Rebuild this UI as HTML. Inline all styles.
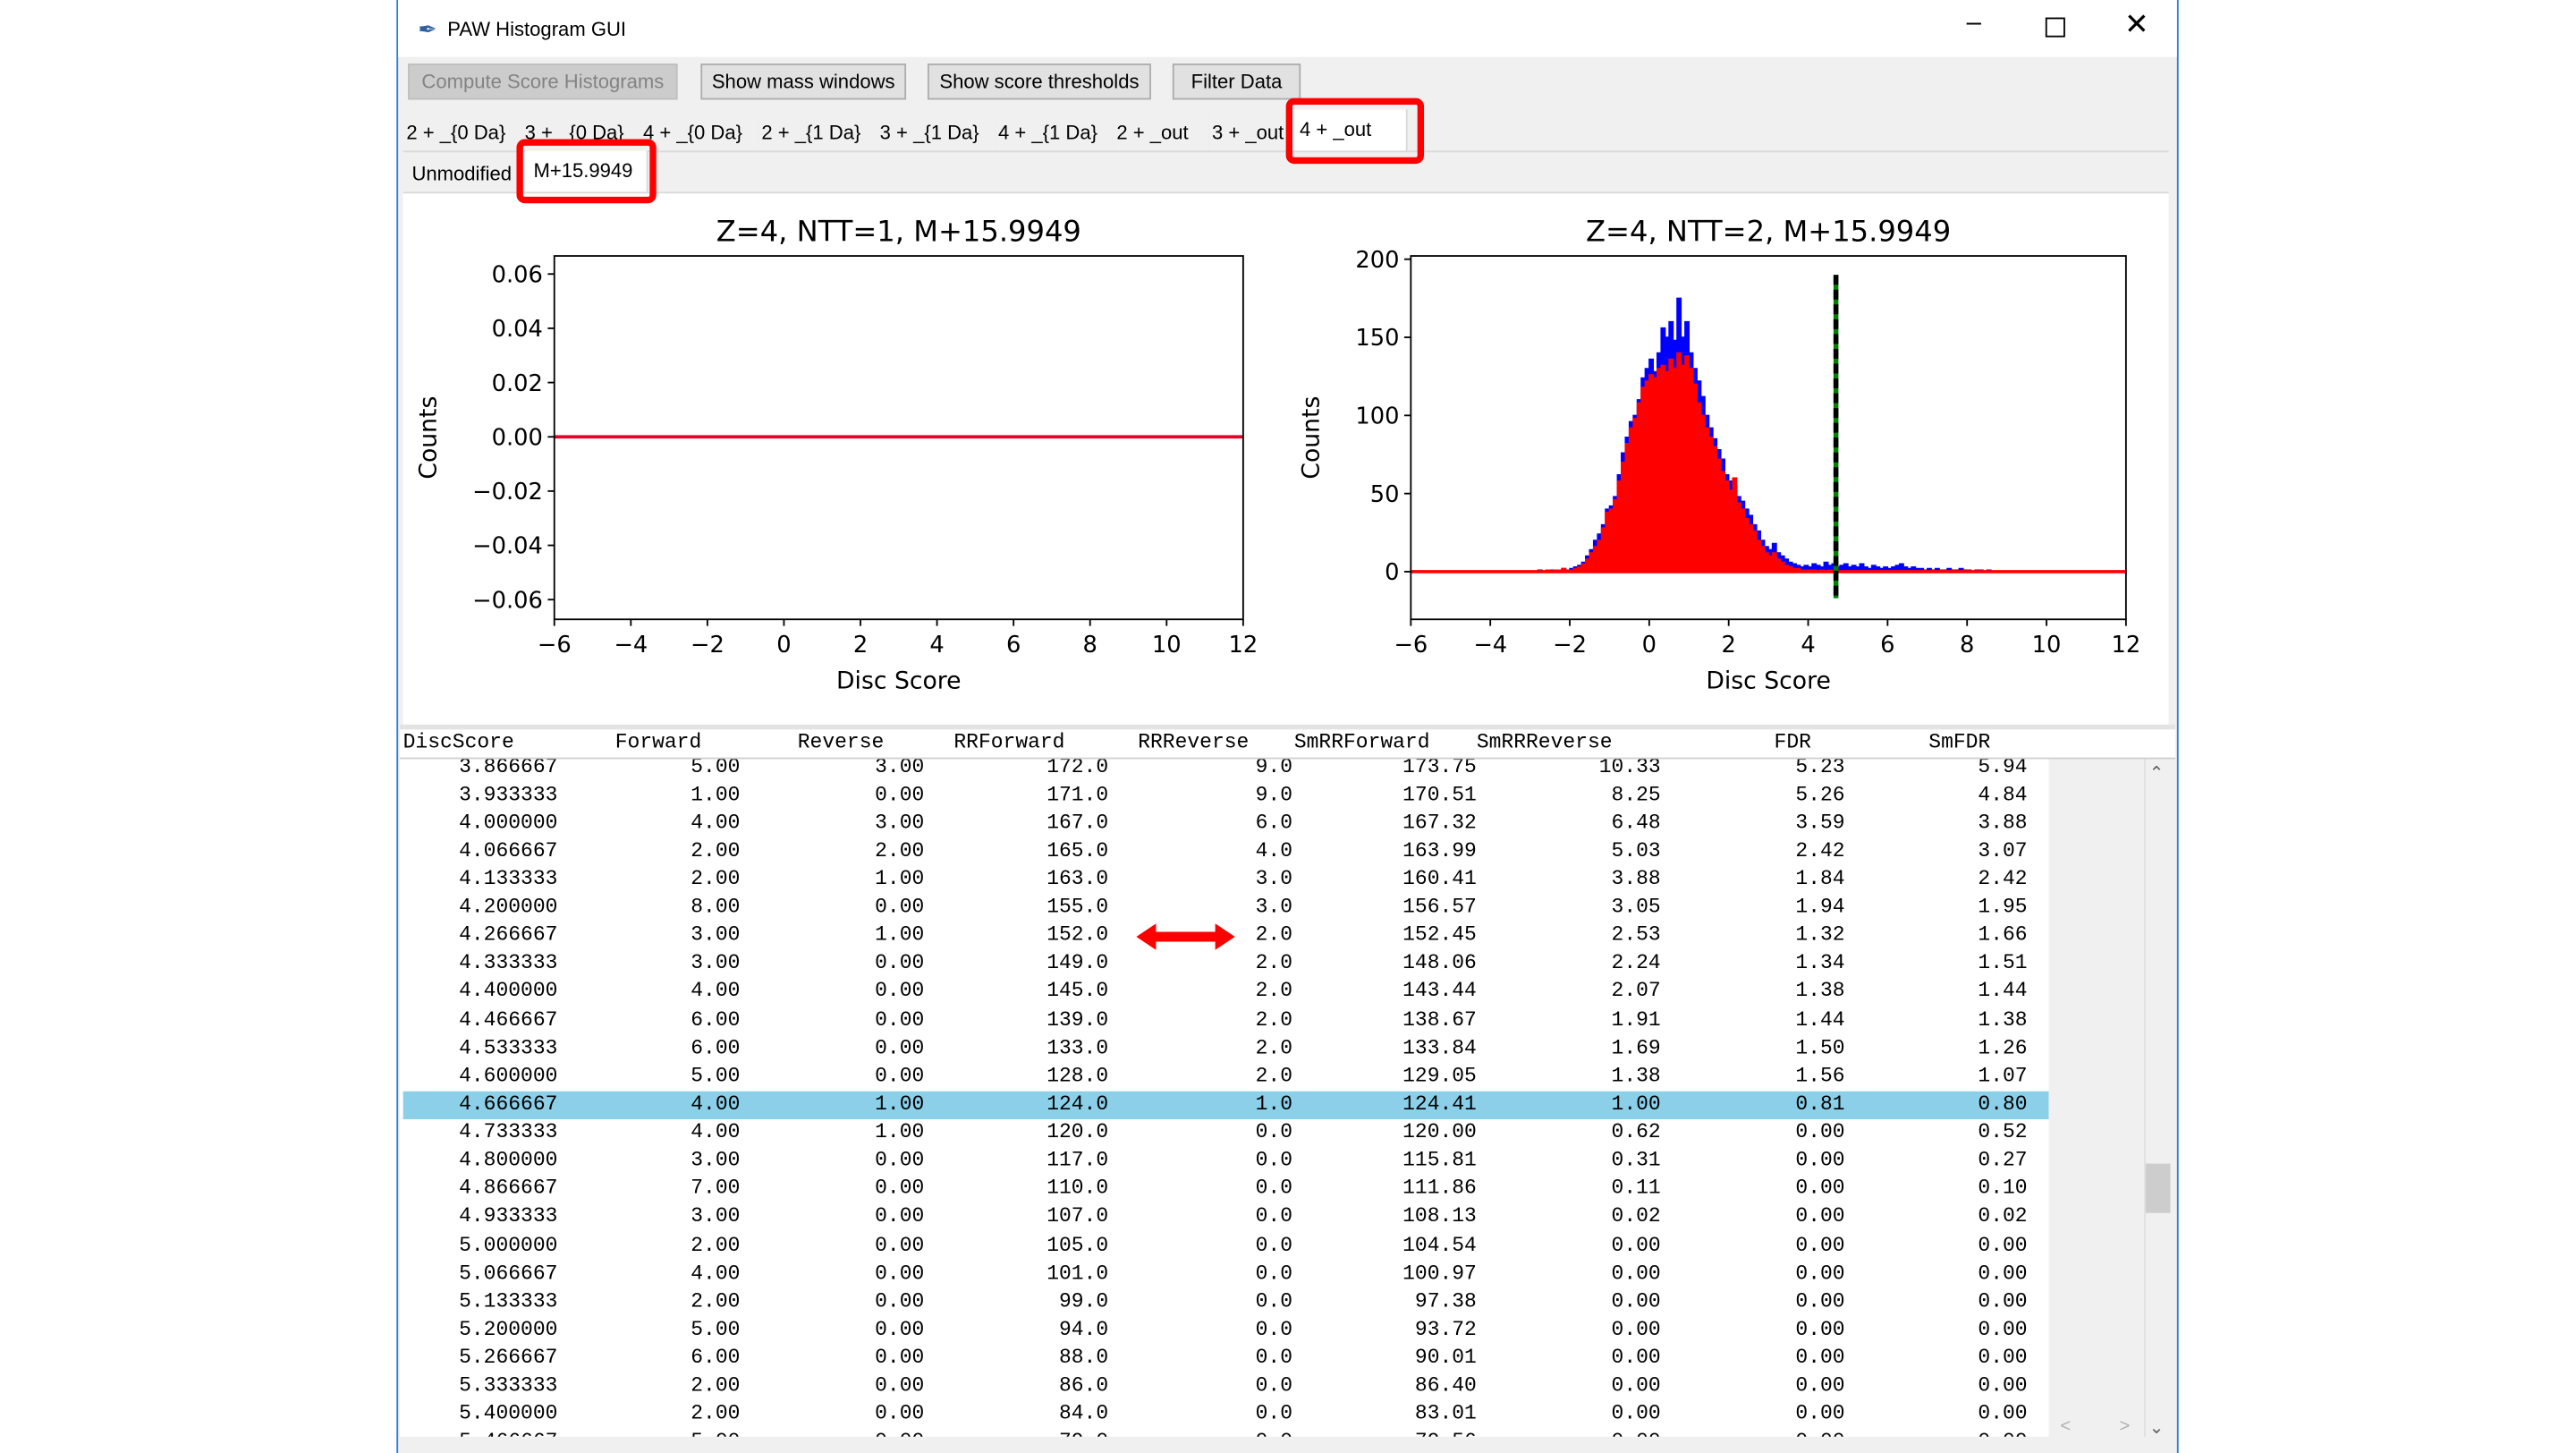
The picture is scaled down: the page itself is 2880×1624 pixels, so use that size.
<!DOCTYPE html>
<html><head><meta charset="utf-8"><style>
html,body{margin:0;padding:0;background:#fff;overflow:hidden}
#root{position:absolute;left:0;top:0;width:1552px;height:882px;transform:translate(-1.5px,3px) scale(1.838);transform-origin:0 0;font-family:"Liberation Sans",sans-serif;font-size:12px;color:#000}
.abs{position:absolute}
.btn{position:absolute;top:37px;height:22px;border:1px solid #adadad;background:#e1e1e1;box-sizing:border-box;text-align:center;line-height:20px;font-size:12px}
.tab{position:absolute;top:68px;height:22px;line-height:22px;font-size:12px;background:#f0f0f0;border-right:1px solid #d9d9d9;padding-left:2px;overflow:hidden;white-space:nowrap}
.mono{font-family:"Liberation Mono",monospace;font-size:12.5px}
.cell{position:absolute;text-align:right;white-space:nowrap}
.redbox{position:absolute;border:4px solid #f00;border-radius:5px;box-sizing:border-box}
</style></head><body>
<div id="root">
  <div class="abs" style="left:242px;top:-3px;width:1084px;height:885px;border:1px solid #2a7fd4;border-bottom:none;box-sizing:border-box;background:#f0f0f0"></div>
  <div class="abs" style="left:243px;top:-2px;width:1082px;height:35px;background:#fff"></div>
  <div class="abs" style="left:255px;top:8px;font-size:14px;color:#3060a0">&#x2712;</div>
  <div class="abs" style="left:273px;top:9px;font-size:12px">PAW Histogram GUI</div>
  <div class="abs" style="left:1197px;top:4px;font-size:16px">&#x2013;</div>
  <div class="abs" style="left:1245px;top:9px;width:10px;height:10px;border:1px solid #000"></div>
  <div class="abs" style="left:1293px;top:3px;font-size:18px">&#x2715;</div>

  <div class="btn" style="left:249px;width:164px;background:#cccccc;color:#838383;border-color:#bfbfbf">Compute Score Histograms</div>
  <div class="btn" style="left:427px;width:125px">Show mass windows</div>
  <div class="btn" style="left:565px;width:136px">Show score thresholds</div>
  <div class="btn" style="left:714px;width:78px">Filter Data</div>

  <div class="tab" style="left:246px;width:70px">2 + _{0 Da}</div>
  <div class="tab" style="left:318px;width:70px">3 + _{0 Da}</div>
  <div class="tab" style="left:390px;width:70px">4 + _{0 Da}</div>
  <div class="tab" style="left:462px;width:70px">2 + _{1 Da}</div>
  <div class="tab" style="left:534px;width:70px">3 + _{1 Da}</div>
  <div class="tab" style="left:606px;width:70px">4 + _{1 Da}</div>
  <div class="tab" style="left:678px;width:56px">2 + _out</div>
  <div class="tab" style="left:736px;width:48px">3 + _out</div>
  <div class="tab" style="left:786px;top:65px;height:25px;width:68px;background:#fff;line-height:24px">&nbsp;4 + _out</div>
  <div class="abs" style="left:246px;top:90px;width:1074px;height:1px;background:#d9d9d9"></div>

  <div class="tab" style="left:246px;top:93px;width:70px;height:22px">&nbsp;Unmodified</div>
  <div class="tab" style="left:320px;top:90px;height:25px;width:72px;background:#fff;line-height:24px">&nbsp;M+15.9949</div>

  <div class="abs" style="left:246px;top:115px;width:1074px;height:323px;background:#fff;border-top:1px solid #d9d9d9"></div>

  <div class="redbox" style="left:783px;top:58px;width:84px;height:40px"></div>
  <div class="redbox" style="left:315px;top:83px;width:85px;height:39px"></div>

  <svg class="abs" style="left:0;top:0" width="1552" height="873" id="charts"></svg>

  <div class="abs" style="left:244px;top:439px;width:1080px;height:3px;background:#e3e3e3"></div>
  <div class="abs mono" style="left:244px;top:442px;width:1080px;height:17px;background:#fff;border-bottom:1px solid #cfcfcf">
    <span class="abs" style="left:2px;top:1px">DiscScore</span>
    <span class="abs" style="left:131px;top:1px">Forward</span>
    <span class="abs" style="left:242px;top:1px">Reverse</span>
    <span class="abs" style="left:337px;top:1px">RRForward</span>
    <span class="abs" style="left:449px;top:1px">RRReverse</span>
    <span class="abs" style="left:544px;top:1px">SmRRForward</span>
    <span class="abs" style="left:655px;top:1px">SmRRReverse</span>
    <span class="abs" style="left:836px;top:1px">FDR</span>
    <span class="abs" style="left:930px;top:1px">SmFDR</span>
  </div>
  <div class="abs mono" id="tbody" style="left:244px;top:460px;width:1003px;height:412px;overflow:hidden;background:#fff"></div>
  <div class="abs" style="left:1247px;top:460px;width:58px;height:412px;background:#f0f0f0"></div>
  <div class="abs" style="left:1305px;top:460px;width:17px;height:412px;background:#f0f0f0;border-left:1px solid #e0e0e0"></div>
  <div class="abs" style="left:1306px;top:706px;width:15px;height:30px;background:#cdcdcd"></div>
  <div class="abs" style="left:1308px;top:462px;font-size:11px;color:#606060">&#x2303;</div>
  <div class="abs" style="left:1308px;top:860px;font-size:11px;color:#606060">&#x2304;</div>
  <div class="abs" style="left:1254px;top:860px;font-size:11px;color:#b0b0b0">&lt;</div>
  <div class="abs" style="left:1290px;top:860px;font-size:11px;color:#b0b0b0">&gt;</div>

  <svg class="abs" style="left:690px;top:558px" width="64" height="20">
    <polygon points="2,10 14,2 14,7 50,7 50,2 62,10 50,18 50,13 14,13 14,18" fill="#f00"/>
  </svg>
</div>
<script>
const binStart = -3.0;
const binWidth = 0.1;
const forwardCounts = [0,0,1,0,1,1,0,1,2,1, 2,3,4,6,10,14,20,24,30,40, 42,48,62,76,86,96,100,110,124,130,
 136,128,140,156,150,160,148,175,150,160, 140,130,122,112,100,92,85,78,72,62, 58,55,48,45,40,36,30,26,20,16,
 14,18,12,10,8,6,5,4,3,4, 3,5,4,3,6,4,5,3,4,5, 3,4,3,5,3,2,4,3,2,3, 2,3,4,5,3,2,3,2,2,1, 2,1,2,1,1,2,1,1,2,1, 1,0,1,1,0,1,0,0,0,0];
const reverseCounts = [0,0,0,0,1,0,1,1,2,1, 1,2,3,5,8,12,16,20,28,38, 40,46,58,70,82,92,98,108,118,122,
 126,124,130,132,128,136,130,140,132,138, 130,120,108,100,92,86,80,72,64,58, 52,60,44,40,34,30,26,20,16,12,
 10,12,8,6,4,3,2,2,1,1, 1,1,0,1,0,1,0,0,0,0, 0,0,0,0,0,0,0,0,0,0, 0,0,0,0,0,0,0,0,0,0, 0,0,0,0,0,0,0,0,0,0, 0,0,0,0,0,0,0,0,0,0];
const threshold = 4.7;
const xTicks = [-6,-4,-2,0,2,4,6,8,10,12];
const yTicksLeft = [0.06,0.04,0.02,0.00,-0.02,-0.04,-0.06];
const yTicksRight = [0,50,100,150,200];
const leftTitle = "Z=4, NTT=1, M+15.9949";
const rightTitle = "Z=4, NTT=2, M+15.9949";

const NS = "http://www.w3.org/2000/svg";
const svg = document.getElementById('charts');
function mk(tag, attrs, parent){const e=document.createElementNS(NS,tag);for(const k in attrs)e.setAttribute(k,attrs[k]);(parent||svg).appendChild(e);return e;}
function txt(s, attrs){const e=mk('text',attrs);e.textContent=s;return e;}

function drawAxes(P, sx, sy, yTicks, fmt, title, name){
  const g = mk('g',{});
  
  
  mk('rect',{x:P.l,y:P.t,width:P.r-P.l,height:P.b-P.t,fill:'none',stroke:'#000','stroke-width':1},g);
  xTicks.forEach(v=>{
    const x=sx(v);
    mk('line',{x1:x,x2:x,y1:P.b,y2:P.b+4,stroke:'#000'},g);
    const t=txt((v<0?'\u2212'+(-v):String(v)),{x:x,y:P.b+20,'text-anchor':'middle','font-family':'DejaVu Sans, sans-serif','font-size':14});
    
    
  });
  yTicks.forEach(v=>{
    const y=sy(v);
    mk('line',{x1:P.l-4,x2:P.l,y1:y,y2:y,stroke:'#000'},g);
    const s=fmt(v);
    const t=txt(s,{x:P.l-7,y:y+5,'text-anchor':'end','font-family':'DejaVu Sans, sans-serif','font-size':14});
    
    
  });
  const tt=txt(title,{x:(P.l+P.r)/2,y:P.t-9,'text-anchor':'middle','font-family':'DejaVu Sans, sans-serif','font-size':17.5});
  
  
  const xl=txt('Disc Score',{x:(P.l+P.r)/2,y:P.b+42,'text-anchor':'middle','font-family':'DejaVu Sans, sans-serif','font-size':14.5});
  
  
  const yx=P.l-(name==='left-chart'?72:56), yy=(P.t+P.b)/2;
  const yl=txt('Counts',{x:yx,y:yy,'text-anchor':'middle','font-family':'DejaVu Sans, sans-serif','font-size':14.5,transform:'rotate(-90 '+yx+' '+yy+')'});
  
  
}

const PL={l:338,r:757,t:154,b:375};
const sxL=v=>PL.l+(v+6)/18*(PL.r-PL.l);
const syL=v=>264 - v/0.06*99;
const zl=mk('line',{x1:PL.l,x2:PL.r,y1:syL(0),y2:syL(0),stroke:'#e8002a','stroke-width':2});


drawAxes(PL,sxL,syL,yTicksLeft,v=>(v<0?'\u2212':'')+Math.abs(v).toFixed(2),leftTitle,'left-chart');

const PR={l:859,r:1294,t:154,b:375};
const sxR=v=>PR.l+(v+6)/18*(PR.r-PR.l);
const syR=v=>346 - v*0.95;
function areaPath(arr){
  let d='M'+sxR(binStart)+','+syR(0);
  arr.forEach((c,i)=>{const x0=binStart+i*binWidth;d+=' L'+sxR(x0).toFixed(2)+','+syR(c).toFixed(2)+' L'+sxR(x0+binWidth).toFixed(2)+','+syR(c).toFixed(2);});
  d+=' L'+sxR(binStart+arr.length*binWidth)+','+syR(0)+' Z';
  return d;
}
const fwd=mk('path',{d:areaPath(forwardCounts),fill:'#0000ff',stroke:'#0000ff','stroke-width':0.8});


const rev=mk('path',{d:areaPath(reverseCounts),fill:'#ff0000',stroke:'#ff0000','stroke-width':0.8});


const zr=mk('line',{x1:PR.l,x2:PR.r,y1:syR(0),y2:syR(0),stroke:'#ff0000','stroke-width':2});


const th1=mk('line',{x1:sxR(threshold),x2:sxR(threshold),y1:syR(190),y2:syR(-17),stroke:'#008000','stroke-width':3});


const th2=mk('line',{x1:sxR(threshold),x2:sxR(threshold),y1:syR(190),y2:syR(-17),stroke:'#000','stroke-width':3,'stroke-dasharray':'6,3'});


drawAxes(PR,sxR,syR,yTicksRight,v=>String(v),rightTitle,'right-chart');

const discScores=["3.866667","3.933333","4.000000","4.066667","4.133333","4.200000","4.266667","4.333333","4.400000","4.466667","4.533333","4.600000","4.666667","4.733333","4.800000","4.866667","4.933333","5.000000","5.066667","5.133333","5.200000","5.266667","5.333333","5.400000","5.466667"];
const forwardCol=["5.00","1.00","4.00","2.00","2.00","8.00","3.00","3.00","4.00","6.00","6.00","5.00","4.00","4.00","3.00","7.00","3.00","2.00","4.00","2.00","5.00","6.00","2.00","2.00","5.00"];
const reverseCol=["3.00","0.00","3.00","2.00","1.00","0.00","1.00","0.00","0.00","0.00","0.00","0.00","1.00","1.00","0.00","0.00","0.00","0.00","0.00","0.00","0.00","0.00","0.00","0.00","0.00"];
const rrForwardCol=["172.0","171.0","167.0","165.0","163.0","155.0","152.0","149.0","145.0","139.0","133.0","128.0","124.0","120.0","117.0","110.0","107.0","105.0","101.0","99.0","94.0","88.0","86.0","84.0","79.0"];
const rrReverseCol=["9.0","9.0","6.0","4.0","3.0","3.0","2.0","2.0","2.0","2.0","2.0","2.0","1.0","0.0","0.0","0.0","0.0","0.0","0.0","0.0","0.0","0.0","0.0","0.0","0.0"];
const smRRForwardCol=["173.75","170.51","167.32","163.99","160.41","156.57","152.45","148.06","143.44","138.67","133.84","129.05","124.41","120.00","115.81","111.86","108.13","104.54","100.97","97.38","93.72","90.01","86.40","83.01","79.56"];
const smRRReverseCol=["10.33","8.25","6.48","5.03","3.88","3.05","2.53","2.24","2.07","1.91","1.69","1.38","1.00","0.62","0.31","0.11","0.02","0.00","0.00","0.00","0.00","0.00","0.00","0.00","0.00"];
const fdrCol=["5.23","5.26","3.59","2.42","1.84","1.94","1.32","1.34","1.38","1.44","1.50","1.56","0.81","0.00","0.00","0.00","0.00","0.00","0.00","0.00","0.00","0.00","0.00","0.00","0.00"];
const smFdrCol=["5.94","4.84","3.88","3.07","2.42","1.95","1.66","1.51","1.44","1.38","1.26","1.07","0.80","0.52","0.27","0.10","0.02","0.00","0.00","0.00","0.00","0.00","0.00","0.00","0.00"];
const selectedRow=12;
const cols=[discScores,forwardCol,reverseCol,rrForwardCol,rrReverseCol,smRRForwardCol,smRRReverseCol,fdrCol,smFdrCol];
const colRight=[96,207,319,431,543,655,767,879,990];
const tbody=document.getElementById('tbody');
const rowH=17.12;
for(let i=0;i<discScores.length;i++){
  const row=document.createElement('div');
  
  
  row.style.cssText='position:absolute;left:2px;width:1001px;height:17px;top:'+(-3.5+i*rowH)+'px;'+(i===selectedRow?'background:#8ccfe9;':'');
  cols.forEach((c,j)=>{
    const s=document.createElement('span');
    s.className='cell';
    
    
    s.style.right=(1001-colRight[j]+2)+'px';
    s.style.top='1px';
    s.textContent=c[i];
    row.appendChild(s);
  });
  tbody.appendChild(row);
}
</script>
</body></html>
